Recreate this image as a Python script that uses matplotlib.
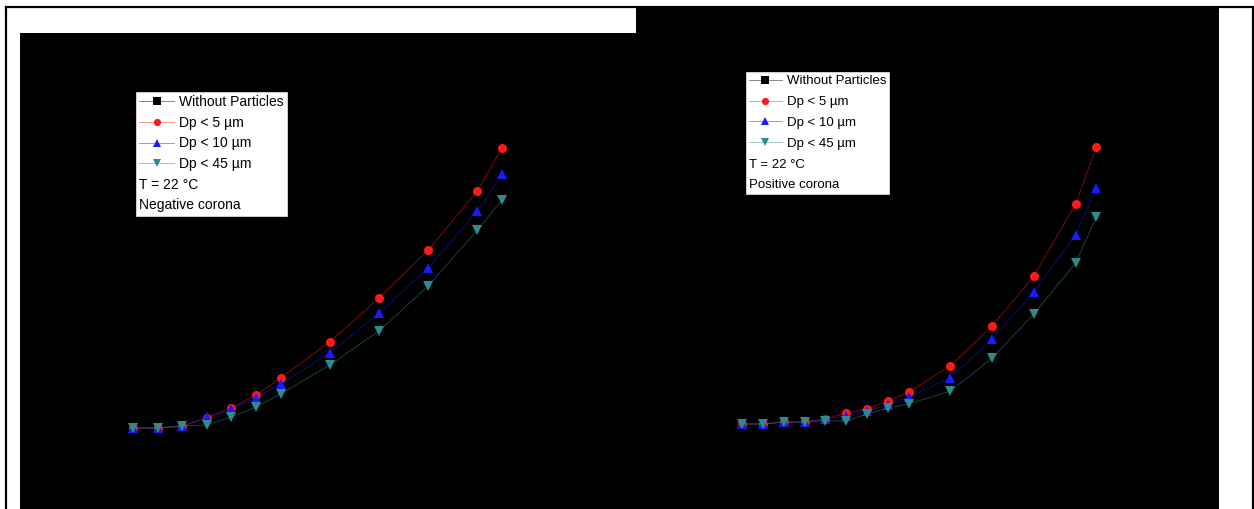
import matplotlib
matplotlib.use("Agg")
import matplotlib.pyplot as plt
from matplotlib.colors import to_rgba
from matplotlib.lines import Line2D
from matplotlib.patches import Rectangle

plt.rcParams['font.family'] = ['Liberation Sans', 'DejaVu Sans']

# series names / styles
names = ["Without Particles", "Dp < 5 µm", "Dp < 10 µm", "Dp < 45 µm"]
colors = ["black", "#ff1a1a", "#1a1aff", "#2e8b8b"]
markers = ["s", "o", "^", "v"]

# negative corona (left panel), applied voltage vs current
neg_v = [10, 11, 12, 13, 14, 15, 16, 18, 20, 22, 24, 25]
neg_none = [3, 3, 6, 15, 25, 38, 56, 94, 140, 190, 252, 296]
neg_5 = [2, 2, 4, 12, 22, 35, 52, 88, 132, 180, 239, 282]
neg_10 = [2, 2, 4, 13, 21, 32, 46, 77, 117, 162, 219, 256]
neg_45 = [2, 2, 4, 5, 13, 23, 36, 65, 99, 144, 200, 230]

# positive corona (right panel)
pos_v = [10, 11, 12, 13, 14, 15, 16, 17, 18, 20, 22, 24, 26, 27]
pos_none = [4, 4, 6, 6, 9, 16, 21, 30, 40, 68, 110, 163, 238, 296]
pos_5 = [3, 3, 5, 5, 8, 14, 18, 26, 35, 61, 101, 151, 223, 280]
pos_10 = [3, 3, 5, 5, 8, 11, 16, 22, 30, 49, 88, 135, 192, 239]
pos_45 = [3, 3, 5, 5, 6, 6, 13, 19, 23, 36, 69, 113, 164, 210]

W, H = 1254, 509
fig = plt.figure(figsize=(W / 100, H / 100), dpi=100)
fig.patch.set_facecolor("white")

# outer frame
fig.patches.append(Rectangle((6 / W, -0.01), 1246.5 / W, 1 - 6.5 / H + 0.01,
                             transform=fig.transFigure, fill=False,
                             edgecolor="black", linewidth=1.6))

ax1 = fig.add_axes([20 / W, 0, 616 / W, 476 / H])
ax2 = fig.add_axes([636 / W, 0, 583 / W, 501 / H])


def draw(ax, v, series, xlim, ylim, note, lx, ly, fs, ls):
    ax.set_facecolor("black")
    for ys, c, m, n in zip(series, colors, markers, names):
        ax.plot(v, ys, color=to_rgba(c, 0.55), marker=m, markersize=6.5,
                linewidth=0.6, markerfacecolor=c, markeredgewidth=0, label=n)
    ax.set_xlim(*xlim)
    ax.set_ylim(*ylim)
    ax.set_xticks([])
    ax.set_yticks([])
    for s in ax.spines.values():
        s.set_visible(False)

    handles = ax.get_lines()[:4] + [Line2D([], [], linestyle="none")] * 2
    labels = names + ["T = 22 °C", note]
    leg = ax.legend(handles, labels, loc="upper left",
                    bbox_to_anchor=(lx / W, 1 - ly / H),
                    bbox_transform=fig.transFigure, borderaxespad=0,
                    fancybox=False, edgecolor="black", framealpha=1,
                    fontsize=fs, handlelength=2.5, handletextpad=0.35,
                    labelspacing=ls, borderpad=0.3, markerscale=0.8)
    leg.get_frame().set_linewidth(1.0)
    # text-only rows start at the left edge of the box
    col = leg._legend_handle_box.get_children()[0]
    for row in col.get_children()[4:]:
        row._children = row._children[1:]


draw(ax1, neg_v, [neg_none, neg_5, neg_10, neg_45],
     (5.407, 30.45), (-79, 397), "Negative corona", 135, 91, 10, 0.48)
draw(ax2, pos_v, [pos_none, pos_5, pos_10, pos_45],
     (4.916, 32.88), (-82, 419), "Positive corona", 745, 71, 9.5, 0.66)

fig.savefig("out.png", dpi=100, facecolor="white")
